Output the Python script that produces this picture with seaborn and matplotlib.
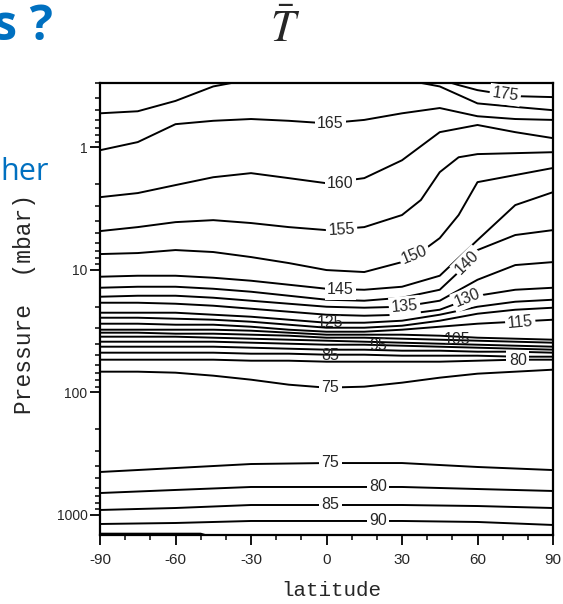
import matplotlib
matplotlib.use("Agg")
import matplotlib.pyplot as plt
import seaborn as sns
import numpy as np
import pandas as pd
from matplotlib.ticker import FixedLocator, LogLocator, NullFormatter

sns.set_style("ticks")
plt.rcParams["font.family"] = ["Liberation Sans", "DejaVu Sans"]
plt.rcParams["mathtext.fontset"] = "stix"

# latitude columns (deg) and isotherm pressures (mbar)
lat13 = [-90, -75, -60, -45, -30, -15, 0, 15, 30, 45, 60, 75, 90]
lat_steep = [-90, -75, -60, -45, -30, -15, 0, 15, 30, 37.5, 45, 52.5, 60, 75, 90]
lat140 = [-90, -75, -60, -45, -30, -15, 0, 15, 30, 45, 52.5, 60, 75, 90]
lat175 = [30, 45, 52, 60, 75, 90]
lat_low = [-90, -60, -30, 0, 30, 60, 90]
lat95 = [-90, -70, -50, -48]

p175 = [0.26, 0.28, 0.31, 0.343, 0.384, 0.391]
p170 = [0.53, 0.51, 0.42, 0.32, 0.28, 0.27, 0.27, 0.27, 0.28, 0.32, 0.44, 0.47, 0.50]
p165 = [1.06, 0.91, 0.65, 0.61, 0.59, 0.61, 0.64, 0.60, 0.53, 0.48, 0.56, 0.59, 0.60]
p160 = [2.56, 2.37, 2.04, 1.76, 1.63, 1.79, 1.97, 1.79, 1.28, 0.755, 0.66, 0.755, 0.845]
p155 = [4.84, 4.49, 4.09, 3.94, 4.16, 4.49, 4.75, 4.49, 3.58, 2.70, 1.60, 1.21, 1.14, 1.12, 1.10]
p150 = [7.45, 7.31, 6.91, 7.17, 7.88, 8.82, 10.06, 10.44, 8.66, 7.17, 5.52, 3.58, 1.93, 1.69, 1.48]
p145 = [11.40, 11.19, 11.19, 11.62, 12.29, 13.25, 14.29, 14.56, 13.76, 11.19, 5.73, 2.97, 2.33]
p140 = [14.02, 13.76, 13.76, 14.29, 15.11, 16.29, 17.56, 17.89, 16.91, 14.56, 10.44, 6.91, 5.21, 4.75]
p135 = [16.60, 16.29, 16.29, 16.91, 17.89, 18.93, 20.03, 20.40, 20.03, 17.89, 12.07, 9.16, 8.66]
p130 = [18.58, 18.58, 18.93, 19.65, 20.79, 21.99, 23.27, 23.71, 23.27, 21.19, 16.29, 14.56, 14.02]
p125 = [22.41, 22.41, 22.41, 23.27, 24.16, 25.56, 27.04, 27.04, 26.04, 23.27, 20.03, 18.23, 17.56]
p120 = [24.62, 24.62, 25.08, 25.56, 26.54, 28.07, 29.70, 29.70, 28.61, 26.04, 22.84, 21.19, 20.40]
p115 = [27.55, 27.55, 28.07, 28.07, 29.15, 30.83, 32.01, 32.01, 30.83, 29.15, 27.55, 26.54, 25.56]
p110 = [30.83, 30.83, 30.83, 30.83, 31.41, 32.61, 33.86, 33.86, 33.86, 34.50, 35.82, 36.50, 37.20]
p105 = [32.61, 32.61, 33.23, 33.23, 33.86, 34.50, 35.82, 35.82, 36.50, 37.20, 37.90, 38.62, 39.35]
p100 = [35.15, 35.15, 35.15, 35.82, 36.50, 37.20, 37.90, 38.62, 39.35, 40.10, 40.86, 41.63, 42.42]
p95 = [38.62, 38.62, 38.62, 38.62, 39.35, 40.10, 40.86, 40.86, 41.63, 42.42, 43.22, 44.04, 44.87]
p90 = [42.42, 42.42, 42.42, 42.42, 43.22, 44.04, 44.87, 44.87, 45.72, 45.72, 46.59, 46.59, 47.47]
p85 = [47.47, 47.47, 47.47, 47.47, 48.37, 48.37, 49.29, 49.29, 50.22, 50.22, 50.22, 51.17, 51.17]
p80 = [54.14, 54.14, 54.14, 54.14, 55.17, 55.17, 56.21, 56.21, 56.21, 56.21, 55.17, 54.14, 54.14]
p75 = [67.81, 67.81, 69.09, 73.09, 78.80, 86.55, 91.55, 89.85, 83.35, 75.89, 70.40, 67.81, 65.31]
# troposphere
p75_low = [446, 414, 384, 377, 377, 406, 430]
p80_low = [662, 625, 591, 591, 591, 614, 637]
p85_low = [910, 877, 829, 829, 829, 845, 877]
p90_low = [1184, 1162, 1119, 1119, 1119, 1140, 1206]
p95_low = [1420, 1420, 1420, 1460]

lines = [
    ("175", lat175, p175), ("170", lat13, p170), ("165", lat13, p165),
    ("160", lat13, p160), ("155", lat_steep, p155), ("150", lat_steep, p150),
    ("145", lat13, p145), ("140", lat140, p140), ("135", lat13, p135),
    ("130", lat13, p130), ("125", lat13, p125), ("120", lat13, p120),
    ("115", lat13, p115), ("110", lat13, p110), ("105", lat13, p105),
    ("100", lat13, p100), ("95", lat13, p95), ("90", lat13, p90),
    ("85", lat13, p85), ("80", lat13, p80), ("75", lat13, p75),
    ("75low", lat_low, p75_low), ("80low", lat_low, p80_low),
    ("85low", lat_low, p85_low), ("90low", lat_low, p90_low),
    ("95low", lat95, p95_low),
]
df = pd.concat([pd.DataFrame({"lat": la, "p": pp, "line": name}) for name, la, pp in lines],
               ignore_index=True)

fig = plt.figure(figsize=(5.63, 6.04), dpi=100)
ax = fig.add_axes([100 / 563, 1 - 535 / 604, 453 / 563, 452 / 604])

sns.lineplot(data=df, x="lat", y="p", units="line", estimator=None, sort=False,
             color="black", lw=1.4, legend=False, ax=ax)

ax.set_yscale("log")
ax.set_ylim(1456, 0.30)
ax.set_xlim(-90, 90)

# contour labels: (lat, p, text, rotation, white box)
labels = [
    (71, 0.375, "175", -8, True), (1.5, 0.64, "165", 0, True), (5.5, 1.97, "160", 0, True),
    (6, 4.75, "155", 3, True), (35, 7.6, "150", 22, True), (5.5, 14.6, "145", 0, True),
    (56, 8.7, "140", 45, True), (31, 19.8, "135", 5, True), (56, 17.0, "130", 22, True),
    (1.5, 26.7, "125", 0, False), (77, 26.7, "115", 5, True), (52, 37.4, "105", 0, False),
    (20.5, 41.1, "95", 0, False), (1.5, 50.5, "85", 0, False), (76, 54.5, "80", 0, True),
    (1.5, 92, "75", 0, True), (1.5, 376, "75", 0, True), (20.5, 590, "80", 0, True),
    (1.5, 827, "85", 0, True), (20.5, 1117, "90", 0, True),
]
for la, pp, txt, rot, boxed in labels:
    kw = dict(boxstyle="square,pad=0.15", fc="white", ec="none") if boxed else None
    ax.text(la, pp, txt, ha="center", va="center", fontsize=11.5, rotation=rot,
            bbox=kw, zorder=5)

ax.xaxis.set_major_locator(FixedLocator(range(-90, 91, 30)))
ax.xaxis.set_minor_locator(FixedLocator(range(-90, 91, 10)))
ax.set_xticklabels([str(v) for v in range(-90, 91, 30)])
ax.yaxis.set_major_locator(FixedLocator([1, 10, 100, 1000]))
ax.yaxis.set_minor_locator(LogLocator(base=10, subs=np.arange(2, 10)))
ax.yaxis.set_minor_formatter(NullFormatter())
ax.set_yticklabels(["1", "10", "100", "1000"])
ax.tick_params(axis="both", which="major", direction="out", length=7, width=1.3,
               labelsize=10, color="black")
ax.tick_params(axis="x", which="major", pad=6, labelsize=11)
ax.tick_params(axis="y", which="major", pad=2)
ax.tick_params(axis="both", which="minor", direction="out", length=3.5, width=1.1,
               color="black")
ax.tick_params(top=False, right=False, which="both")
for s in ax.spines.values():
    s.set_linewidth(1.6)
    s.set_color("black")
ax.set_xlabel("")
ax.set_ylabel("")

fig.text(331 / 563, 1 - 590 / 604, "latitude", ha="center", va="center",
         fontsize=15, family="Liberation Mono")
fig.text(25 / 563, 1 - 304 / 604, "Pressure  (mbar)", ha="center", va="center",
         rotation=90, fontsize=16.5, family="Liberation Mono")
fig.text(285 / 563, 1 - 30 / 604, r"$\bar{T}$", ha="center", va="center", fontsize=32)
fig.text(53 / 563, 1 - 28 / 604, "s ?", ha="right", va="center", fontsize=35,
         fontweight="bold", color="#0070C0", family="Open Sans")
fig.text(0, 1 - 172 / 604, "her", ha="left", va="center", fontsize=22,
         color="#0070C0", family="Open Sans")

fig.savefig("out.png", dpi=100)
